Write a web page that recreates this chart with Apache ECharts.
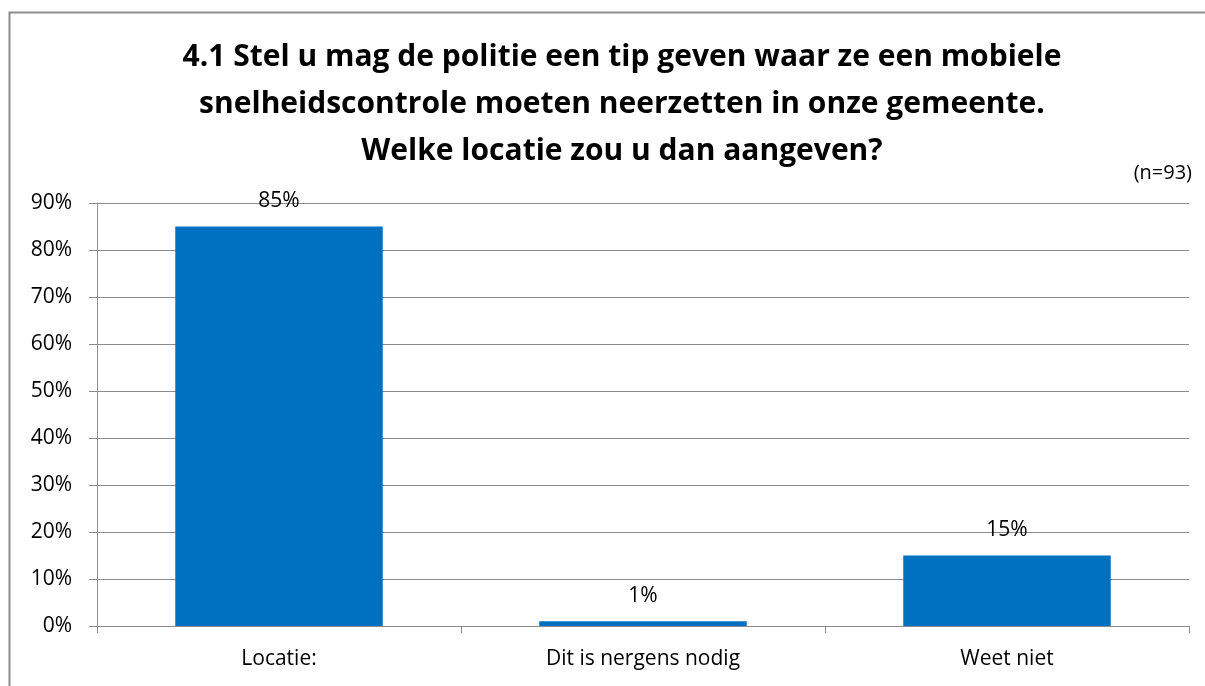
<!DOCTYPE html>
<html>
<head>
<meta charset="utf-8">
<script src="https://cdn.jsdelivr.net/npm/echarts@6/dist/echarts.min.js"></script>
<style>
  html, body { margin: 0; padding: 0; background: #fff; }
  #chart { width: 1205px; height: 686px; }
</style>
</head>
<body>
<div id="chart"></div>
<script>
const categories = ['Locatie:', 'Dit is nergens nodig', 'Weet niet'];
const percentages = [85, 1, 15];
const yTicks = [0, 10, 20, 30, 40, 50, 60, 70, 80, 90];

const titleText = '4.1 Stel u mag de politie een tip geven waar ze een mobiele\nsnelheidscontrole moeten neerzetten in onze gemeente.\nWelke locatie zou u dan aangeven?';
const gridColor = '#8c8c8c';
const font = '"Open Sans", "Noto Sans", sans-serif';

const chart = echarts.init(document.getElementById('chart'), null, { renderer: 'canvas' });

chart.setOption({
  animation: false,
  backgroundColor: '#fff',
  graphic: [
    {
      type: 'rect',
      shape: { x: 9.5, y: 12.5, width: 1210, height: 700 },
      style: { fill: 'none', stroke: '#8c8c8c', lineWidth: 2 },
      silent: true
    },
    {
      type: 'text',
      right: 13,
      top: 163,
      style: { text: '(n=93)', font: '20px ' + font, fill: '#000' }
    }
  ],
  title: {
    text: titleText,
    left: 617,
    textAlign: 'center',
    top: 29,
    textStyle: {
      fontFamily: font,
      fontWeight: 'bold',
      fontSize: 30,
      lineHeight: 47,
      color: '#000'
    }
  },
  grid: { left: 97, right: 16, top: 203, bottom: 60 },
  xAxis: {
    type: 'category',
    data: categories,
    axisLine: { lineStyle: { color: gridColor, width: 1 } },
    axisTick: { show: true, alignWithLabel: false, length: 7, lineStyle: { color: gridColor } },
    axisLabel: { margin: 23, fontSize: 21, fontFamily: font, color: '#000' }
  },
  yAxis: {
    type: 'value',
    min: yTicks[0],
    max: yTicks[yTicks.length - 1],
    interval: 10,
    axisLine: { show: true, lineStyle: { color: gridColor, width: 1 } },
    axisTick: { show: true, length: 8, lineStyle: { color: gridColor } },
    splitLine: { show: true, lineStyle: { color: gridColor, width: 1 } },
    axisLabel: {
      margin: 25,
      fontSize: 21,
      fontFamily: font,
      color: '#000',
      formatter: v => v + '%'
    }
  },
  series: [{
    type: 'bar',
    data: percentages,
    barWidth: '57%',
    itemStyle: { color: '#0070C0' },
    label: {
      show: true,
      position: 'top',
      distance: 15,
      fontSize: 21,
      fontFamily: font,
      color: '#000',
      formatter: p => p.value + '%'
    }
  }]
});
</script>
</body>
</html>
